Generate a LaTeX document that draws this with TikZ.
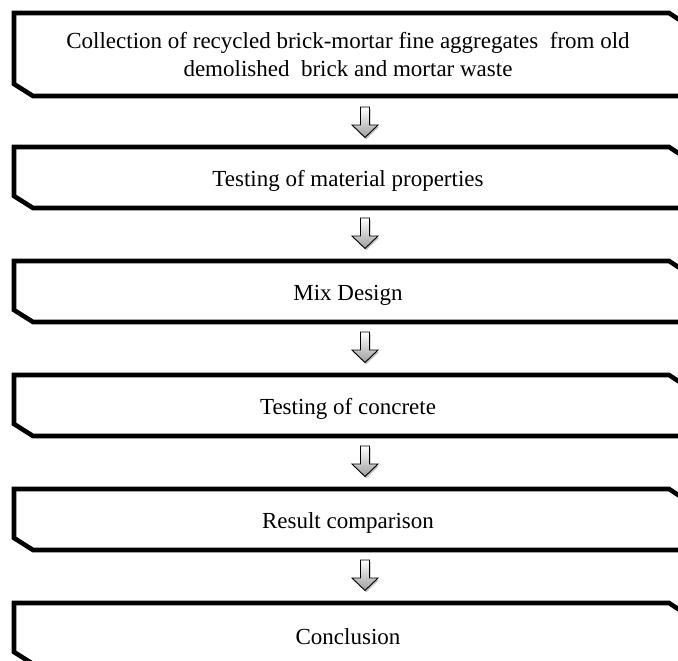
\documentclass[tikz,border=0pt]{standalone}
\usepackage{fontspec}
\setmainfont{Liberation Serif}
\usetikzlibrary{calc}
\tikzset{
  x=1pt, y=1pt,
  boxline/.style={line width=4.6pt, line join=miter, black},
  boxtext/.style={inner sep=0pt, minimum width=668pt, align=center, font=\fontsize{23}{28}\selectfont},
  blockarrow/.style={draw=black, line width=0.9pt, line join=miter, top color=white, bottom color=black!38},
  arrowshadow/.style={fill=black!25, draw=none},
}
% outline of a box with chamfered NE and SW corners: #1 node name, #2 top y, #3 bottom y
\newcommand\chbox[3]{%
  \draw[boxline] (14,#2) -- (669,#2) -- (682,#2-8.5) -- (682,#3) -- (33,#3) -- (14,#3+12) -- cycle;
}
% block arrow, #1 = name of coordinate at top centre
\newcommand\blockarr[1]{%
  \path[arrowshadow] ($(#1)+(1.2,-1.8)$) ++(-4.5,0) -- ++(9,0) -- ++(0,-18) -- ++(8.5,0) -- ++(-13,-12.5) -- ++(-13,12.5) -- ++(8.5,0) -- cycle;
  \path[blockarrow] (#1) ++(-4.5,0) -- ++(9,0) -- ++(0,-18) -- ++(8.5,0) -- ++(-13,-12.5) -- ++(-13,12.5) -- ++(8.5,0) -- cycle;
}
\begin{document}
\begin{tikzpicture}
\useasboundingbox (0,0) rectangle (678,-661);
\fill[white] (0,0) rectangle (678,-661);

\chbox{b1}{-13}{-96}
\chbox{b2}{-147}{-208}
\chbox{b3}{-261}{-322}
\chbox{b4}{-375}{-436}
\chbox{b5}{-489}{-550}
\chbox{b6}{-603}{-664}

\node[boxtext] (b1) at (348,-55) {Collection of recycled brick-mortar fine aggregates~ from old\\demolished~ brick and mortar waste};
\node[boxtext] (b2) at (348,-181) {Testing of material properties};
\node[boxtext] (b3) at (348,-295) {Mix Design};
\node[boxtext] (b4) at (348,-409) {Testing of concrete};
\node[boxtext] (b5) at (348,-523) {Result comparison};
\node[boxtext] (b6) at (348,-637) {Conclusion};

\coordinate (a1) at (365,-107);
\coordinate (a2) at (365,-218);
\coordinate (a3) at (365,-332);
\coordinate (a4) at (365,-446);
\coordinate (a5) at (365,-560);
\blockarr{a1}
\blockarr{a2}
\blockarr{a3}
\blockarr{a4}
\blockarr{a5}
\end{tikzpicture}
\end{document}
